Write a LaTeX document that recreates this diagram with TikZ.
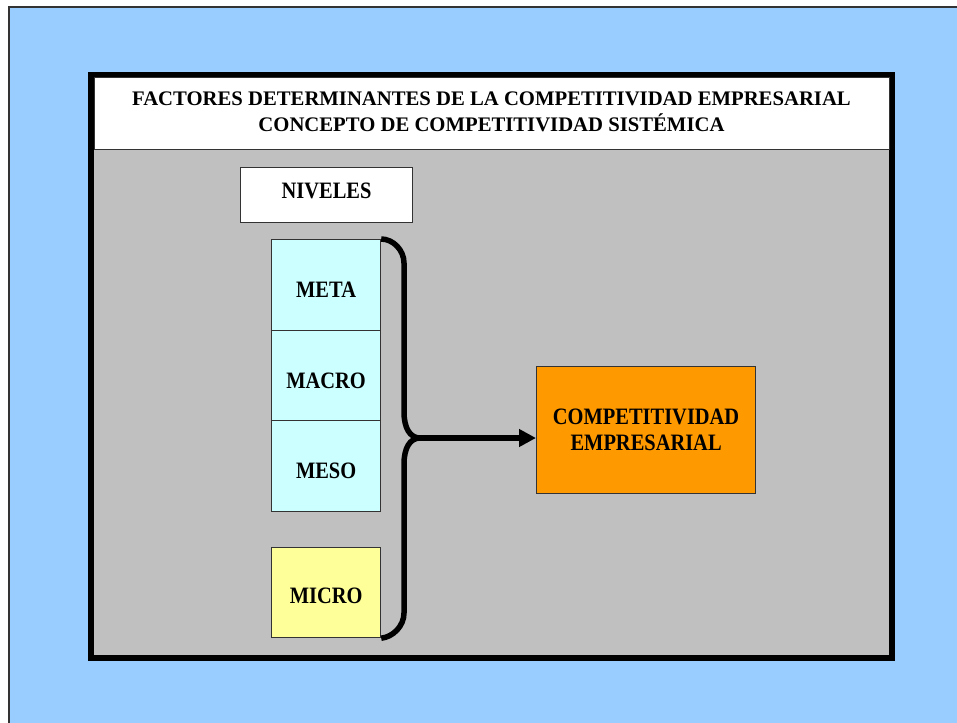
\documentclass[tikz,border=0pt]{standalone}
\usepackage{fontspec}
\setmainfont{Liberation Serif}
\newfontfamily\boxfont{Liberation Serif}[FakeStretch=0.87]
\usetikzlibrary{arrows.meta}
\definecolor{sky}{HTML}{99CCFF}
\definecolor{panel}{HTML}{C0C0C0}
\definecolor{lvl}{HTML}{CCFFFF}
\definecolor{mic}{HTML}{FFFF99}
\definecolor{orng}{HTML}{FF9900}
\definecolor{edge}{HTML}{333333}
\begin{document}
\begin{tikzpicture}[x=1pt,y=-1pt,
  box/.style={draw=edge, line width=1.2pt, inner sep=0pt, anchor=north west,
    font=\boxfont\bfseries\fontsize{23.5}{26}\selectfont},
  lvlbox/.style={box, fill=lvl, minimum width=109pt, minimum height=91pt,
    text height=24.6pt, text depth=0pt},
  brace/.style={line width=5.5pt, black},
  link/.style={line width=6pt, black, -{Triangle[length=17pt,width=17pt]}}]
\clip (0,0) rectangle (957,722);
\fill[white] (0,0) rectangle (957,722);
\draw[draw=edge, line width=1.5pt, fill=sky] (9,7) rectangle (985,745);
\draw[black, line width=6pt, fill=panel] (91,75) rectangle (892,658);
\draw[draw=edge, line width=1pt, fill=white] (94,78) rectangle (889,150);
\node[inner sep=0pt, align=center, font=\bfseries\fontsize{20.7}{26}\selectfont] (title) at (491.5,112)
  {FACTORES DETERMINANTES DE LA COMPETITIVIDAD EMPRESARIAL\\CONCEPTO DE COMPETITIVIDAD SISTÉMICA};
\node[box, fill=white, minimum width=172pt, minimum height=55pt, text height=15.6pt, text depth=9pt] (niveles) at (240,167) {NIVELES};
\node[lvlbox] (meta) at (271,239) {META};
\node[lvlbox] (macro) at (271,330) {MACRO};
\node[lvlbox] (meso) at (271,420) {MESO};
\node[lvlbox, fill=mic, minimum height=90pt, text height=21.6pt] (micro) at (271,547) {MICRO};
\node[box, fill=orng, minimum width=219pt, minimum height=127pt, align=center] (comp) at (536,366)
  {COMPETITIVIDAD\\EMPRESARIAL};
\coordinate (tip) at (420,438);
\draw[brace] (meta.north east) .. controls (393,239) and (404,250) .. (404,263)
  -- (404,412) .. controls (404,428) and (410,438) .. (tip);
\draw[brace] (tip) .. controls (410,438) and (404,448) .. (404,464)
  -- (404,613) .. controls (404,626) and (393,637) .. (micro.south east);
\draw[link] (tip) -- (tip -| comp.west);
\end{tikzpicture}
\end{document}
